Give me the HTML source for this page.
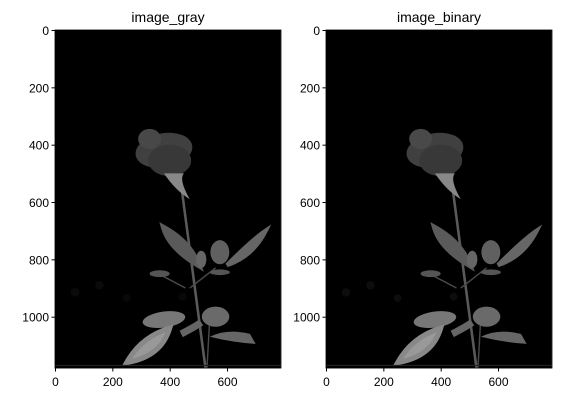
<!DOCTYPE html>
<html><head><meta charset="utf-8"><style>
body{margin:0;background:#fff;width:561px;height:402px;overflow:hidden}
text{font-family:"Liberation Sans","DejaVu Sans",sans-serif;fill:#000}
</style></head><body>
<svg width="561" height="402" viewBox="0 0 561 402" xmlns="http://www.w3.org/2000/svg">
<defs>
<filter id="bl"><feGaussianBlur stdDeviation="1.3"/></filter>
<clipPath id="cp"><rect x="0" y="0" width="787" height="1180"/></clipPath>
<g id="rose">
<rect x="0" y="0" width="787" height="1180" fill="#000"/>
<g clip-path="url(#cp)">
<circle cx="70" cy="915" r="15" fill="#0a0a0a"/><circle cx="155" cy="890" r="15" fill="#0a0a0a"/>
<circle cx="250" cy="935" r="14" fill="#080808"/><circle cx="445" cy="930" r="14" fill="#080808"/>
<line x1="440" y1="540" x2="525" y2="1180" stroke="#5a5a5a" stroke-width="9"/>
<line x1="455" y1="900" x2="360" y2="850" stroke="#4a4a4a" stroke-width="5"/>
<line x1="470" y1="900" x2="560" y2="830" stroke="#4a4a4a" stroke-width="5"/>
<line x1="530" y1="1180" x2="540" y2="1000" stroke="#4a4a4a" stroke-width="5"/>
<path d="M380,690 Q400,760 500,820 Q470,740 380,690Z" fill="#5a5a5a" stroke="#5a5a5a" stroke-width="20"/>
<ellipse cx="510" cy="800" rx="18" ry="30" fill="#666"/>
<ellipse cx="365" cy="850" rx="35" ry="12" fill="#555"/>
<ellipse cx="575" cy="775" rx="33" ry="42" fill="#606060"/>
<path d="M600,820 Q690,730 735,700 Q690,790 600,820Z" fill="#666" stroke="#666" stroke-width="15"/>
<ellipse cx="575" cy="845" rx="35" ry="10" fill="#555"/>
<ellipse cx="560" cy="1000" rx="48" ry="35" fill="#6a6a6a"/>
<ellipse cx="380" cy="1010" rx="75" ry="28" fill="#777" transform="rotate(-8 380 1010)"/>
<path d="M250,1160 Q300,1070 400,1040 Q370,1140 250,1160Z" fill="#999" stroke="#888" stroke-width="18"/>
<path d="M540,1070 Q600,1040 680,1060 L700,1095 Q620,1090 540,1070Z" fill="#666"/>
<path d="M440,1060 Q480,1040 510,1020" stroke="#666" stroke-width="25" fill="none"/>
<ellipse cx="380" cy="420" rx="100" ry="60" fill="#404040" transform="rotate(-10 380 420)"/>
<ellipse cx="400" cy="455" rx="75" ry="55" fill="#383838"/>
<ellipse cx="330" cy="380" rx="40" ry="35" fill="#484848"/>
<path d="M380,500 Q420,560 470,590 Q430,520 450,500Z" fill="#888"/>
<rect x="0" y="1168" width="787" height="4" fill="#222"/>
</g></g>
</defs>
<g>
<text x="168" y="22" font-size="14" text-anchor="middle">image_gray</text>
<g transform="translate(55,30) scale(0.2867)"><use href="#rose"/></g>
<rect x="55" y="30" width="226" height="338" fill="none" stroke="#000" stroke-width="0.8"/>
<g id="lt" font-size="12"></g>
</g>
<g>
<text x="439" y="22" font-size="14" text-anchor="middle">image_binary</text>
<g transform="translate(326,30) scale(0.2867)" filter="url(#bl)"><use href="#rose"/></g>
<rect x="326" y="30" width="226" height="338" fill="none" stroke="#000" stroke-width="0.8"/>
<g id="rt" font-size="12"></g>
</g>
<script>
const xTicks=[0,200,400,600];
const yTicks=[0,200,400,600,800,1000];
const s=0.2867;
function axes(gid,ox){
 const g=document.getElementById(gid);
 const ns='http://www.w3.org/2000/svg';
 xTicks.forEach(v=>{const x=ox+0.5+v*s;
  const l=document.createElementNS(ns,'line');l.setAttribute('x1',x);l.setAttribute('x2',x);l.setAttribute('y1',368);l.setAttribute('y2',371.5);l.setAttribute('stroke','#000');
  
  g.appendChild(l);
  const t=document.createElementNS(ns,'text');t.setAttribute('x',x);t.setAttribute('y',386);t.setAttribute('text-anchor','middle');t.textContent=v;
  
  g.appendChild(t);});
 yTicks.forEach(v=>{const y=30.5+v*s;
  const l=document.createElementNS(ns,'line');l.setAttribute('x1',ox-3.5);l.setAttribute('x2',ox);l.setAttribute('y1',y);l.setAttribute('y2',y);l.setAttribute('stroke','#000');
  
  g.appendChild(l);
  const t=document.createElementNS(ns,'text');t.setAttribute('x',ox-6);t.setAttribute('y',y+4.5);t.setAttribute('text-anchor','end');t.textContent=v;
  
  g.appendChild(t);});
}
axes('lt',55);axes('rt',326);
</script>
</svg>
</body></html>
